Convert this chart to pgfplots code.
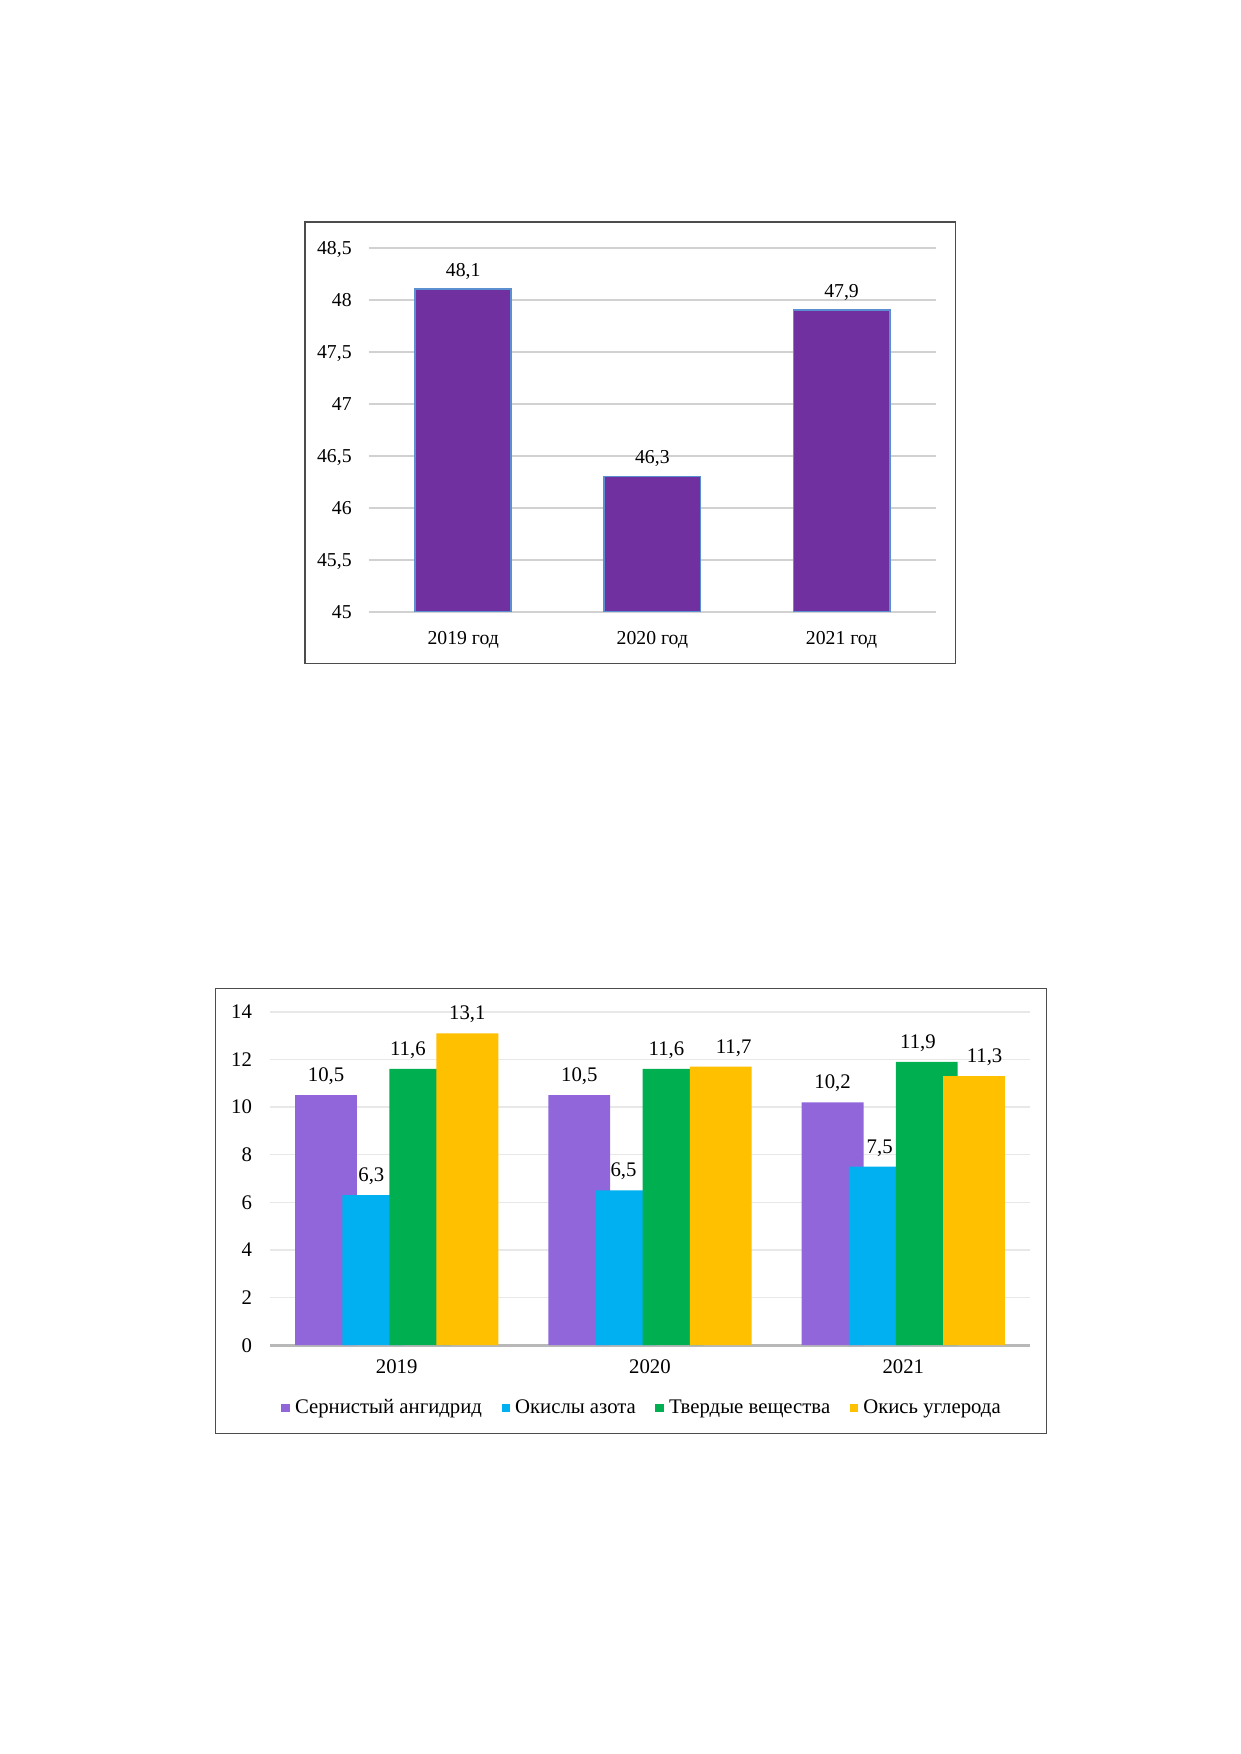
\documentclass[border=0pt]{standalone}
\usepackage{pgfplots}
\pgfplotsset{compat=1.18}
\usepackage{fontspec}
\setmainfont{Liberation Serif}
\definecolor{topPurple}{HTML}{7030A0}
\definecolor{topEdge}{HTML}{5B8FD0}
\definecolor{cPurple}{HTML}{9066DA}
\definecolor{cBlue}{HTML}{00B0F0}
\definecolor{cGreen}{HTML}{00B050}
\definecolor{cYellow}{HTML}{FFC000}
\begin{document}
\begin{tikzpicture}
\fill[white] (0,0) rectangle (210mm,-297mm);
% frames
\draw[black!70, line width=0.2mm] (51.65mm,-37.60mm) rectangle (161.73mm,-112.28mm);
\draw[black!70, line width=0.2mm] (36.48mm,-167.32mm) rectangle (177.15mm,-242.68mm);
% ---------------- top chart
\begin{axis}[
  at={(62.41mm,-103.59mm)}, anchor=south west,
  scale only axis, width=96.11mm, height=61.64mm,
  xmin=-0.5, xmax=2.5, ymin=45, ymax=48.5,
  axis line style={draw=none},
  major tick length=0pt,
  ytick={45,45.5,46,46.5,47,47.5,48,48.5},
  yticklabels={45,{45,5},46,{46,5},47,{47,5},48,{48,5}},
  xtick={0,1,2},
  xticklabels={2019 год,2020 год,2021 год},
  ymajorgrids, grid style={draw=black!18, line width=0.8pt},
  yticklabel style={font=\fontsize{9.5}{11}\selectfont, anchor=base east, inner sep=0pt, xshift=-2.8mm, yshift=-3.1pt},
  xticklabel style={font=\fontsize{9.5}{11}\selectfont, anchor=base, inner sep=0pt, yshift=-5.6mm},
  ybar, bar width=0.508,
  point meta=explicit symbolic,
  nodes near coords,
  every node near coord/.append style={font=\fontsize{9.5}{11}\selectfont, anchor=base, inner sep=0pt, yshift=2.2mm, black},
]
\addplot[fill=topPurple, draw=topEdge, line width=0.3mm] coordinates {(0,48.1)[48,1] (1,46.3)[46,3] (2,47.9)[47,9]};
\end{axis}
% ---------------- bottom chart
\begin{axis}[
  at={(45.73mm,-227.78mm)}, anchor=south west,
  scale only axis, width=128.66mm, height=56.45mm,
  xmin=-0.5, xmax=2.5, ymin=0, ymax=14,
  clip=false,
  axis line style={draw=none},
  major tick length=0pt,
  ytick={2,4,6,8,10,12,14},
  yticklabels={2,4,6,8,10,12,14},
  extra y ticks={0}, extra y tick labels={0},
  extra y tick style={major grid style={draw=black!28, line width=1.3pt}},
  xtick={0,1,2},
  xticklabels={2019,2020,2021},
  ymajorgrids, grid style={draw=black!9, line width=0.7pt},
  yticklabel style={font=\fontsize{10}{12}\selectfont, anchor=base east, inner sep=0pt, xshift=-3.0mm, yshift=-3.3pt},
  xticklabel style={font=\fontsize{10}{12}\selectfont, anchor=base, inner sep=0pt, yshift=-4.75mm},
  ybar, bar width=0.244,
  point meta=explicit symbolic,
  nodes near coords,
  visualization depends on={value \thisrow{dx} \as \lblshift},
  every node near coord/.append style={font=\fontsize{10}{12}\selectfont, anchor=base, inner sep=0pt, yshift=2.3mm, xshift=\lblshift mm, black},
  legend image code/.code={\fill[#1,draw=none] (0mm,-0.7mm) rectangle (1.4mm,0.7mm);},
  legend style={draw=none, fill=none, at={(0.491,-0.189)}, anchor=center,
    legend columns=4, font=\fontsize{10}{12}\selectfont,
    /tikz/every even column/.append style={column sep=2.6mm},
    /tikz/every odd column/.append style={column sep=0.2mm}},
]
\addplot[fill=cPurple, draw=none, bar shift=-0.279] table[row sep=\\, x=x, y=y, meta=l] {
x y l dx\\
0 10.5 10,5 0\\
1 10.5 10,5 0\\
2 10.2 10,2 0\\
};
\addlegendentry{Сернистый ангидрид}
\addplot[fill=cBlue, draw=none, bar shift=-0.093] table[row sep=\\, x=x, y=y, meta=l] {
x y l dx\\
0 6.3 6,3 -0.3\\
1 6.5 6,5 -0.5\\
2 7.5 7,5 0\\
};
\addlegendentry{Окислы азота}
\addplot[fill=cGreen, draw=none, bar shift=0.093] table[row sep=\\, x=x, y=y, meta=l] {
x y l dx\\
0 11.6 11,6 -2.1\\
1 11.6 11,6 -1.2\\
2 11.9 11,9 -1.5\\
};
\addlegendentry{Твердые вещества}
\addplot[fill=cYellow, draw=none, bar shift=0.279] table[row sep=\\, x=x, y=y, meta=l] {
x y l dx\\
0 13.1 13,1 0\\
1 11.7 11,7 2.2\\
2 11.3 11,3 1.8\\
};
\addlegendentry{Окись углерода}
\end{axis}
\end{tikzpicture}
\end{document}
